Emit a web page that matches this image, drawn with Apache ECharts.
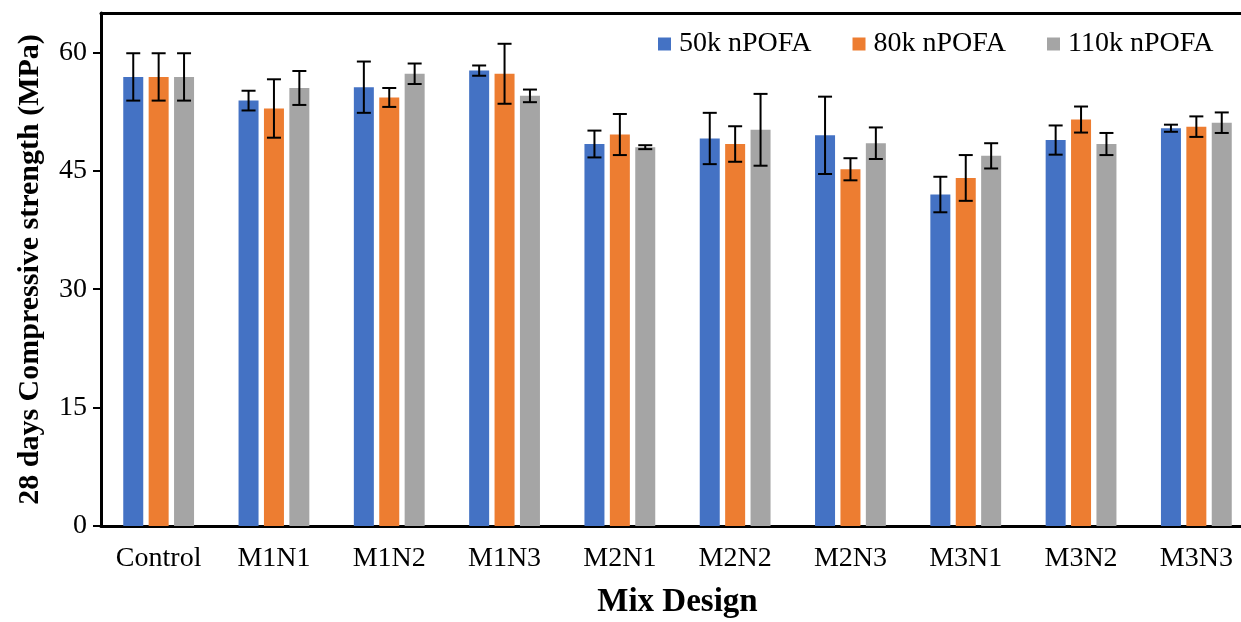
<!DOCTYPE html>
<html>
<head>
<meta charset="utf-8">
<script src="https://cdn.jsdelivr.net/npm/echarts@6/dist/echarts.min.js"></script>
<style>html,body{margin:0;padding:0;background:#fff;}#c{width:1241px;height:622px;}</style>
</head>
<body>
<div id="c"></div>
<script>
const categories = ['Control','M1N1','M1N2','M1N3','M2N1','M2N2','M2N3','M3N1','M3N2','M3N3'];
const seriesNames = ['50k nPOFA','80k nPOFA','110k nPOFA'];
const values50k  = [56.9, 53.9, 55.6, 57.7, 48.4, 49.1, 49.5, 42.0, 48.9, 50.4];
const values80k  = [56.9, 52.9, 54.3, 57.3, 49.6, 48.4, 45.2, 44.1, 51.5, 50.6];
const values110k = [56.9, 55.5, 57.3, 54.5, 48.0, 50.2, 48.5, 46.9, 48.4, 51.1];
const err50k  = [3.0, 1.25, 3.25, 0.65, 1.7, 3.25, 4.9, 2.25, 1.85, 0.45];
const err80k  = [3.0, 3.7, 1.2, 3.8, 2.6, 2.25, 1.4, 2.9, 1.65, 1.3];
const err110k = [3.0, 2.15, 1.3, 0.8, 0.25, 4.55, 2.0, 1.6, 1.4, 1.3];
const yTicks = [0, 15, 30, 45, 60];

const colors = ['#4472C4', '#ED7D31', '#A5A5A5'];
const allValues = [values50k, values80k, values110k];
const allErr = [err50k, err80k, err110k];
const FONT = '"Liberation Serif", "Times New Roman", serif';
const BAR_W = 20, GAP = 5.4;

const series = [];
seriesNames.forEach((name, i) => {
  series.push({
    name: name, type: 'bar', data: allValues[i], barWidth: BAR_W, barGap: (GAP / BAR_W * 100) + '%',
    itemStyle: { color: colors[i] }, z: 2
  });
});
seriesNames.forEach((name, i) => {
  const off = (i - 1) * (BAR_W + GAP);
  series.push({
    type: 'custom', name: name + ' err', z: 5, silent: true,
    data: categories.map((c, k) => [k, allValues[i][k] - allErr[i][k], allValues[i][k] + allErr[i][k]]),
    renderItem: function (params, api) {
      const lo = api.coord([api.value(0), api.value(1)]);
      const hi = api.coord([api.value(0), api.value(2)]);
      const x = lo[0] + off;
      const hw = 7;
      const st = { stroke: '#000', lineWidth: 2 };
      return { type: 'group', children: [
        { type: 'line', shape: { x1: x, y1: lo[1], x2: x, y2: hi[1] }, style: st },
        { type: 'line', shape: { x1: x - hw, y1: lo[1], x2: x + hw, y2: lo[1] }, style: st },
        { type: 'line', shape: { x1: x - hw, y1: hi[1], x2: x + hw, y2: hi[1] }, style: st }
      ]};
    },
    encode: { x: 0, y: [1, 2] }
  });
});

const chart = echarts.init(document.getElementById('c'), null, { renderer: 'canvas' });
chart.setOption({
  animation: false,
  backgroundColor: '#fff',
  textStyle: { fontFamily: FONT },
  grid: { left: 101, right: -13, top: 13, bottom: 96, containLabel: false, outerBoundsMode: 'none' },
  legend: {
    data: seriesNames, left: 658, top: 30, padding: 0, itemWidth: 13, itemHeight: 13, itemGap: 41,
    icon: 'rect', textStyle: { fontFamily: FONT, fontSize: 28, color: '#000', padding: [0, 0, 0, 3] }
  },
  xAxis: [{
    type: 'category', data: categories, position: 'bottom',
    axisLine: { lineStyle: { color: '#000', width: 3 } },
    axisTick: { show: false },
    axisLabel: { fontFamily: FONT, fontSize: 28, color: '#000', margin: 19 },
    name: 'Mix Design', nameLocation: 'middle', nameGap: 60,
    nameTextStyle: { fontFamily: FONT, fontSize: 33, fontWeight: 'bold', color: '#000' }
  }, {
    type: 'category', data: categories, position: 'top',
    axisLine: { lineStyle: { color: '#000', width: 3 } },
    axisTick: { show: false }, axisLabel: { show: false }
  }],
  yAxis: {
    type: 'value', min: 0, max: 65, interval: 15,
    axisLine: { show: true, lineStyle: { color: '#000', width: 3 } },
    axisTick: { show: true, length: 8, inside: false, customValues: yTicks, lineStyle: { color: '#000', width: 2 } },
    axisLabel: { fontFamily: FONT, fontSize: 28, color: '#000', margin: 14, customValues: yTicks },
    splitLine: { show: false },
    name: '28 days Compressive strength (MPa)', nameLocation: 'middle', nameGap: 56,
    nameTextStyle: { fontFamily: FONT, fontSize: 30, fontWeight: 'bold', color: '#000' }
  },
  series: series
});
</script>
</body>
</html>
